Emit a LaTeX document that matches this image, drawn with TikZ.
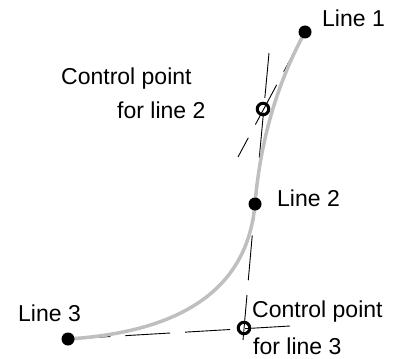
\documentclass[tikz,border=0pt]{standalone}
\usepackage{fontspec}
\setmainfont{Liberation Sans}
\usetikzlibrary{calc}

\begin{document}
\begin{tikzpicture}[x=1pt, y=-1pt,
    tangent/.style={black, line width=0.9pt, dash pattern=on 45pt off 15pt},
    curve/.style={black!25, line width=3.5pt},
    linept/.style={circle, fill=black, inner sep=0pt, minimum size=13pt},
    ctrlpt/.style={circle, draw=black, line width=3pt, inner sep=0pt, minimum size=11.5pt},
    label/.style={anchor=base west, inner sep=0pt, font=\fontsize{23}{27}\selectfont}]
    \useasboundingbox (0, 0) rectangle (403, 358);

    % points on the curve and the control points
    \coordinate (l1) at (305, 32);
    \coordinate (l2) at (255, 204);
    \coordinate (l3) at (68, 339);
    \coordinate (c2) at (263, 109);
    \coordinate (c3) at (244, 328);

    % free ends of the tangents
    \coordinate (t1) at (238, 157);
    \coordinate (t2) at (269, 53);
    \coordinate (t3) at (243, 340);
    \coordinate (t4) at (290, 326);

    \draw [tangent] (l1) -- (t1);
    \draw [tangent] (t2) -- (l2);
    \draw [tangent] (t3) -- (l2);
    \draw [tangent] (t4) -- (l3);

    \draw [curve] (l1) .. controls ($(l1)!2/3!(c2)$) and ($(l2)!2/3!(c2)$) .. (l2)
                       .. controls ($(l2)!2/3!(c3)$) and ($(l3)!2/3!(c3)$) .. (l3);

    \node [linept] (p1) at (l1) {};
    \node [linept] (p2) at (l2) {};
    \node [linept] (p3) at (l3) {};
    \node [ctrlpt] (q2) at (c2) {};
    \node [ctrlpt] (q3) at (c3) {};

    \node [label] (n1) at (322, 27) {Line 1};
    \node [label] (n2) at (277, 206) {Line 2};
    \node [label] (n3) at (18, 321) {Line 3};
    \node [label] (m2a) at (61, 85) {Control point};
    \node [label] (m2b) at (117, 118) {for line 2};
    \node [label] (m3a) at (252, 317) {Control point};
    \node [label] (m3b) at (253, 354) {for line 3};
\end{tikzpicture}
\end{document}
